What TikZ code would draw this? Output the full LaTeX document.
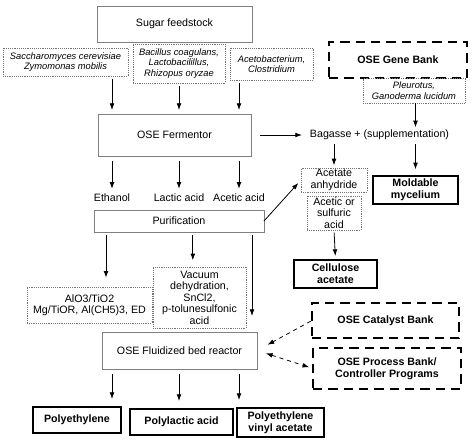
\documentclass[tikz,border=0pt]{standalone}
\usepackage{fontspec}
\setmainfont{Liberation Sans}
\usetikzlibrary{arrows.meta}

\begin{document}
\begin{tikzpicture}[x=0.75pt, y=-0.75pt, >={Latex[length=5pt,width=3.6pt]},
     every node/.style = {inner sep=1pt, outer sep=0pt, align=center,
     font=\fontsize{8}{8.6}\selectfont},
     plainbox/.style = {draw=black!50, thin},
     dotbox/.style = {draw=black!55, densely dotted, thin},
     italbox/.style = {dotbox, font=\fontsize{7}{8}\selectfont\itshape},
     boldbox/.style = {draw=black, line width=1.6pt,
     font=\fontsize{8}{9}\selectfont\bfseries},
     bankbox/.style = {draw=black, line width=2.2pt,
     dash pattern=on 7pt off 4.5pt, font=\fontsize{8}{9}\selectfont\bfseries},
     arr/.style = {->, semithick, shorten <=2pt, shorten >=3pt},
     dasharr/.style = {arr, dashed}]
    \useasboundingbox (0,0) rectangle (474,443);
        \node [plainbox, minimum width=116.25pt, minimum height=27pt]
            at (174.5,24)   (feed) {Sugar feedstock};
        \node [italbox, minimum width=93.75pt, minimum height=21pt]
            at (65.5,62)    (sacch) {Saccharomyces cerevisiae\\Zymomonas mobilis};
        \node [italbox, minimum width=69pt, minimum height=29.25pt]
            at (179,63.5)   (bacil) {Bacillus coagulans,\\Lactobacilillus,\\Rhizopus oryzae};
        \node [italbox, minimum width=62.25pt, minimum height=24pt]
            at (271.5,64)   (aceto) {Acetobacterium,\\Clostridium};
        \node [bankbox, minimum width=103.5pt, minimum height=27pt]
            at (398,60)     (gene) {OSE Gene Bank};
        \node [italbox, minimum width=76.5pt, minimum height=18.75pt]
            at (414,90.5)   (pleur) {Pleurotus,\\Ganoderma lucidum};
        \node [plainbox, minimum width=114.75pt, minimum height=31.5pt]
            at (174.5,135)  (ferm) {OSE Fermentor};
        \node at (379.5,135) (bag) {Bagasse + (supplementation)};
        \node at (112,198)  (ethl) {Ethanol};
        \node at (179,198)  (lac) {Lactic acid};
        \node at (239,198)  (acet) {Acetic acid};
        \node [plainbox, minimum width=127.5pt, minimum height=16.5pt]
            at (179,221)    (purif) {Purification};
        \node [dotbox, minimum width=49.5pt, minimum height=18pt]
            at (334,180)    (anhyd) {Acetate\\anhydride};
        \node [dotbox, minimum width=40.5pt, minimum height=25.5pt]
            at (334,213)    (acbox) {Acetic or\\sulfuric\\acid};
        \node [boldbox, minimum width=63.75pt, minimum height=21pt]
            at (415.5,190)  (mold) {Moldable\\mycelium};
        \node [boldbox, minimum width=62.25pt, minimum height=21pt]
            at (335.5,274)  (cell) {Cellulose\\acetate};
        \node [dotbox, minimum width=93.75pt, minimum height=27pt]
            at (89.5,305)   (alo) {AlO3/TiO2\\Mg/TiOR, Al(CH5)3, ED};
        \node [dotbox, minimum width=69.75pt, minimum height=45.75pt]
            at (199.5,297.5) (vac) {Vacuum\\dehydration,\\SnCl2,\\p-tolunesulfonic\\acid};
        \node [plainbox, minimum width=116.25pt, minimum height=27.75pt]
            at (179.5,350.5) (reac) {OSE Fluidized bed reactor};
        \node [bankbox, minimum width=110.25pt, minimum height=26.25pt]
            at (385.5,320.5) (cat) {OSE Catalyst Bank};
        \node [bankbox, minimum width=111pt, minimum height=30.75pt]
            at (387,368.5)  (proc) {OSE Process Bank/\\Controller Programs};
        \node [boldbox, minimum width=66pt, minimum height=19.5pt]
            at (77,420)     (pe) {Polyethylene};
        \node [boldbox, minimum width=77.25pt, minimum height=19.5pt]
            at (181.5,422)  (pla) {Polylactic acid};
        \node [boldbox, minimum width=65.25pt, minimum height=21.75pt]
            at (280.5,422.5) (peva) {Polyethylene\\vinyl acetate};

        \draw [arr] (sacch.south -| ethl) -- (ethl |- ferm.north);
        \draw [arr] (bacil.south -| lac) -- (lac |- ferm.north);
        \draw [arr] (aceto.south -| acet) -- (acet |- ferm.north);
        \draw [arr, shorten <=4pt] (ferm.south -| ethl) -- (ethl.north);
        \draw [arr, shorten <=4pt] (ferm.south -| lac) -- (lac.north);
        \draw [arr, shorten <=4pt] (ferm.south -| acet) -- (acet.north);
        \draw [arr, shorten <=7pt, shorten >=5pt] (ferm.east) -- (bag.west);
        \draw [arr, shorten <=0pt, shorten >=1pt] (pleur.south -| mold) -- (bag.north -| mold);
        \draw [arr, shorten >=2pt] (bag.south -| anhyd) -- (anhyd.north);
        \draw [arr, shorten >=5pt] (bag.south -| mold) -- (mold.north);
        \draw [arr, shorten <=0pt] (purif.east) -- (anhyd.west);
        \draw [arr] (acbox.south) -- (cell.north);
        \draw [arr, shorten >=7pt] ([xshift=-4.5pt]purif.south -| ethl)
            -- ([xshift=-4.5pt]alo.north -| ethl);
        \draw [arr, shorten >=5pt] ([xshift=-5pt]purif.south -| vac)
            -- ([xshift=-5pt]vac.north);
        \draw [arr, shorten >=12pt] ([xshift=-9pt]purif.south east)
            -- ([xshift=-9pt]purif.south east |- reac.north);
        \draw [dasharr, shorten <=1pt, shorten >=9pt] (cat.west) -- (reac.east);
        \draw [dasharr, <->, shorten <=7pt, shorten >=3pt] (reac.east) -- (proc.west);
        \draw [arr, shorten <=4pt, shorten >=6pt] (reac.south -| ethl) -- (ethl |- pe.north);
        \draw [arr, shorten <=4pt, shorten >=6pt] (reac.south -| lac) -- (lac |- pla.north);
        \draw [arr, shorten <=4pt, shorten >=6pt] (reac.south -| acet) -- (acet |- peva.north);
\end{tikzpicture}
\end{document}
